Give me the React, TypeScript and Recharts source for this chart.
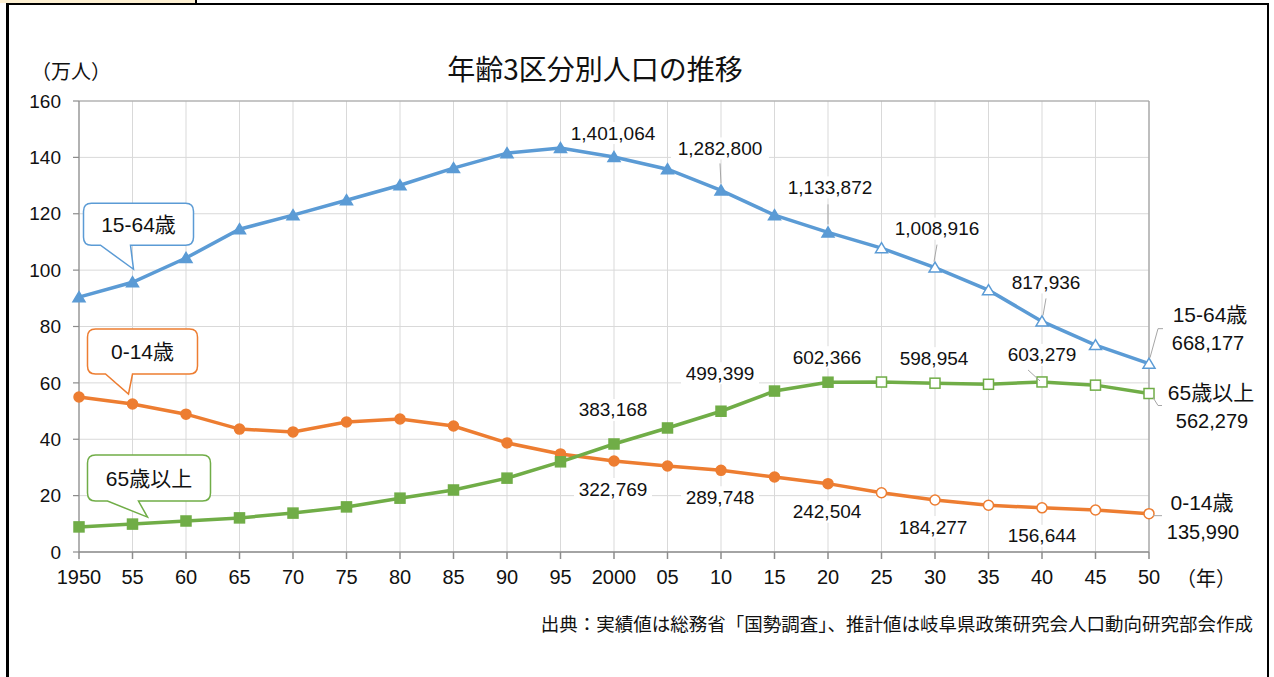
import React from 'react';
import { LineChart, Line, XAxis, YAxis, CartesianGrid, LabelList, ReferenceLine } from 'recharts';

// ---- data ----
const years = ['1950', '55', '60', '65', '70', '75', '80', '85', '90', '95', '2000', '05', '10', '15', '20', '25', '30', '35', '40', '45', '50'];
const workingAge = [90.4, 95.7, 104.3, 114.5, 119.5, 124.8, 130.1, 136.2, 141.5, 143.3, 140.1064, 135.8, 128.28, 119.5, 113.3872, 107.8, 100.8916, 92.9, 81.7936, 73.4, 66.8177];
const children = [55.0, 52.5, 48.9, 43.6, 42.6, 46.1, 47.2, 44.7, 38.7, 34.8, 32.2769, 30.5, 28.9748, 26.6, 24.2504, 21.0, 18.4277, 16.6, 15.6644, 14.9, 13.599];
const elderly = [8.9, 9.9, 11.0, 12.1, 13.8, 16.0, 19.1, 22.0, 26.2, 32.0, 38.3168, 44.0, 49.9399, 57.1, 60.2366, 60.3, 59.8954, 59.5, 60.3279, 59.2, 56.2279];

const workingAgeLabels = [null, null, null, null, null, null, null, null, null, null, '1,401,064', null, '1,282,800', null, '1,133,872', null, '1,008,916', null, '817,936', null, '668,177'];
const childrenLabels = [null, null, null, null, null, null, null, null, null, null, '322,769', null, '289,748', null, '242,504', null, '184,277', null, '156,644', null, '135,990'];
const elderlyLabels = [null, null, null, null, null, null, null, null, null, null, '383,168', null, '499,399', null, '602,366', null, '598,954', null, '603,279', null, '562,279'];

const seriesNames = { working: '15-64歳', children: '0-14歳', elderly: '65歳以上' };
const yTicks = [0, 20, 40, 60, 80, 100, 120, 140, 160];
const firstProjectedIndex = 15;

const data = years.map((year, i) => ({
  year,
  working: workingAge[i],
  children: children[i],
  elderly: elderly[i],
  workingLabel: workingAgeLabels[i],
  childrenLabel: childrenLabels[i],
  elderlyLabel: elderlyLabels[i],
}));

// ---- styles ----
const BLUE = '#5B9BD5';
const ORANGE = '#ED7D31';
const GREEN = '#70AD47';
const FONT = '"Liberation Sans", Arial, "Noto Sans CJK JP", sans-serif';
const JFONT = '"Noto Sans CJK JP", "Liberation Sans", sans-serif';

// label placements (offsets from point)
type Placement = { dx: number; dy: number; leader?: number[] };
const workingPlacement: Record<number, Placement> = {
  10: { dx: -1, dy: -24 },
  12: { dx: -1, dy: -42, leader: [-1, -27, 0, -7] },
  14: { dx: 2, dy: -45, leader: [0, -28, 0, -8] },
  16: { dx: 2, dy: -39, leader: [2, -23, -1, -6] },
  18: { dx: 4, dy: -39, leader: [4, -23, 1, -6] },
};
const childrenPlacement: Record<number, Placement> = {
  10: { dx: -1, dy: 28 },
  12: { dx: -1, dy: 27 },
  14: { dx: -1, dy: 28 },
  16: { dx: -2, dy: 27 },
  18: { dx: 0, dy: 28 },
};
const elderlyPlacement: Record<number, Placement> = {
  10: { dx: -1, dy: -34 },
  12: { dx: -1, dy: -38 },
  14: { dx: -1, dy: -25 },
  16: { dx: -1, dy: -25 },
  18: { dx: 0, dy: -27, leader: [-14, -12, -2, -1] },
};

type EndLabel = { nameDx: number; nameDy: number; valDx: number; valDy: number; leader: number[] };
const workingEnd: EndLabel = { nameDx: 61, nameDy: -49, valDx: 59, valDy: -21, leader: [1, -6, 9, -35, 14, -35] };
const elderlyEnd: EndLabel = { nameDx: 62, nameDy: -1, valDx: 63, valDy: 27, leader: [4, 4, 9, 12, 13, 12] };
const childrenEnd: EndLabel = { nameDx: 53, nameDy: -11, valDx: 54, valDy: 18, leader: [4, 2, 13, 2] };

type Bubble = { rect: number[]; tail: number[]; tip: number[] };
const workingBubble: Bubble = { rect: [-49, -79, 61, -37], tail: [-32, -2], tip: [1, -13] };
const childrenBubble: Bubble = { rect: [-45, -75, 65, -30], tail: [-27, 0], tip: [-4, -10] };
const elderlyBubble: Bubble = { rect: [-45, -69, 78, -23], tail: [-25, 6], tip: [15, -7] };

function bubblePath(cx: number, cy: number, b: Bubble) {
  const r = 8;
  const x1 = cx + b.rect[0], y1 = cy + b.rect[1], x2 = cx + b.rect[2], y2 = cy + b.rect[3];
  const tl = cx + b.tail[0], tr = cx + b.tail[1];
  const tx = cx + b.tip[0], ty = cy + b.tip[1];
  return `M${x1 + r},${y1} H${x2 - r} Q${x2},${y1} ${x2},${y1 + r} V${y2 - r} Q${x2},${y2} ${x2 - r},${y2} H${tr} L${tx},${ty} L${tl},${y2} H${x1 + r} Q${x1},${y2} ${x1},${y2 - r} V${y1 + r} Q${x1},${y1} ${x1 + r},${y1} Z`;
}

function getXY(props: any) {
  const x = props.x ?? props.viewBox?.x;
  const y = props.y ?? props.viewBox?.y;
  return { x, y };
}

function makeLabelContent(color: string, name: string, placement: Record<number, Placement>, bubble: Bubble, end: EndLabel) {
  return (props: any) => {
    const { x, y } = getXY(props);
    const index = props.index;
    if (x == null || y == null) return null;
    if (index === 1) {
      const cxT = x + (bubble.rect[0] + bubble.rect[2]) / 2;
      const cyT = y + (bubble.rect[1] + bubble.rect[3]) / 2;
      return (
        <g>
          <path d={bubblePath(x, y, bubble)} fill="#fff" stroke={color} strokeWidth={1.5} />
          <text x={cxT} y={cyT} textAnchor="middle" dominantBaseline="central" fontSize={21} fontFamily={FONT} fill="#111">{name}</text>
        </g>
      );
    }
    if (index === years.length - 1) {
      const l = end.leader;
      const pts = [];
      for (let i = 0; i < l.length; i += 2) pts.push(`${x + l[i]},${y + l[i + 1]}`);
      return (
        <g>
          <polyline points={pts.join(' ')} fill="none" stroke="#a6a6a6" strokeWidth={1} />
          <text x={x + end.nameDx} y={y + end.nameDy} textAnchor="middle" dominantBaseline="central" fontSize={21} fontFamily={FONT} fill="#111">{name}</text>
          <text x={x + end.valDx} y={y + end.valDy} textAnchor="middle" dominantBaseline="central" fontSize={20} fontFamily={FONT} fill="#111">{props.value}</text>
        </g>
      );
    }
    const p = placement[index];
    if (!p || props.value == null) return null;
    const text = String(props.value);
    const w = text.length * 10 + 8;
    const lx = x + p.dx, ly = y + p.dy;
    return (
      <g>
        {p.leader && (
          <line x1={x + p.leader[0]} y1={y + p.leader[1]} x2={x + p.leader[2]} y2={y + p.leader[3]} stroke="#a6a6a6" strokeWidth={1} />
        )}
        <rect x={lx - w / 2} y={ly - 11} width={w} height={22} fill="#fff" />
        <text x={lx} y={ly} textAnchor="middle" dominantBaseline="central" fontSize={19} fontFamily={FONT} fill="#111">{text}</text>
      </g>
    );
  };
}

function makeDot(color: string, shape: 'triangle' | 'circle' | 'square') {
  return (props: any) => {
    const { cx, cy, index } = props;
    if (cx == null || cy == null) return <g key={index} />;
    const hollow = index >= firstProjectedIndex;
    const fill = hollow ? '#fff' : color;
    if (shape === 'triangle') {
      const h = 5.5, w = 6;
      return <path key={index} d={`M${cx},${cy - h} L${cx + w},${cy + h - 1} L${cx - w},${cy + h - 1} Z`} fill={fill} stroke={color} strokeWidth={1.5} />;
    }
    if (shape === 'circle') {
      return <circle key={index} cx={cx} cy={cy} r={5} fill={fill} stroke={color} strokeWidth={1.5} />;
    }
    return <rect key={index} x={cx - 5} y={cy - 5} width={10} height={10} fill={fill} stroke={color} strokeWidth={1.5} />;
  };
}

export default function App() {
  return (
    <div style={{ position: 'absolute', left: 0, top: 0, width: 1274, height: 677, background: '#fff', overflow: 'hidden' }}>
      <LineChart width={1274} height={677} data={data} margin={{ top: 101, right: 125, bottom: 95, left: 19 }}>
        <CartesianGrid stroke="#d9d9d9" strokeWidth={1} vertical horizontal />
        <XAxis
          dataKey="year"
          interval={0}
          tickSize={7}
          tickMargin={11}
          height={30}
          stroke="#8c8c8c"
          strokeWidth={1.5}
          tick={{ fontSize: 20, fontFamily: FONT, fill: '#111' }}
        />
        <YAxis
          domain={[0, 160]}
          ticks={yTicks}
          width={60}
          tickSize={6}
          tickMargin={12}
          stroke="#8c8c8c"
          strokeWidth={1.2}
          tick={{ fontSize: 19, fontFamily: FONT, fill: '#111' }}
        />
        <ReferenceLine y={160} stroke="#a0a0a0" strokeWidth={1} />
        <ReferenceLine x="50" stroke="#a0a0a0" strokeWidth={1.2} />
        <Line dataKey="working" stroke={BLUE} strokeWidth={3.5} isAnimationActive={false} dot={makeDot(BLUE, 'triangle')} activeDot={false}>
          <LabelList dataKey="workingLabel" content={makeLabelContent(BLUE, seriesNames.working, workingPlacement, workingBubble, workingEnd)} />
        </Line>
        <Line dataKey="children" stroke={ORANGE} strokeWidth={3.5} isAnimationActive={false} dot={makeDot(ORANGE, 'circle')} activeDot={false}>
          <LabelList dataKey="childrenLabel" content={makeLabelContent(ORANGE, seriesNames.children, childrenPlacement, childrenBubble, childrenEnd)} />
        </Line>
        <Line dataKey="elderly" stroke={GREEN} strokeWidth={3.5} isAnimationActive={false} dot={makeDot(GREEN, 'square')} activeDot={false}>
          <LabelList dataKey="elderlyLabel" content={makeLabelContent(GREEN, seriesNames.elderly, elderlyPlacement, elderlyBubble, elderlyEnd)} />
        </Line>
      </LineChart>
      <svg width={1274} height={677} style={{ position: 'absolute', left: 0, top: 0, pointerEvents: 'none' }}>
        <rect x={0} y={0} width={195} height={3} fill="#fdf0d2" />
        <line x1={196} y1={0} x2={196} y2={4} stroke="#000" strokeWidth={2} />
        <line x1={7} y1={4} x2={1268} y2={4} stroke="#000" strokeWidth={2} />
        <line x1={7.5} y1={3} x2={7.5} y2={677} stroke="#000" strokeWidth={3} />
        <line x1={1268} y1={3} x2={1268} y2={677} stroke="#000" strokeWidth={2} />
        <text x={595} y={68} textAnchor="middle" dominantBaseline="central" fontSize={28} fontFamily={JFONT} fill="#111">年齢3区分別人口の推移</text>
        <text x={31} y={70} dominantBaseline="central" fontSize={20} fontFamily={JFONT} fill="#111">（万人）</text>
        <text x={1176} y={577} dominantBaseline="central" fontSize={20} fontFamily={JFONT} fill="#111">（年）</text>
        <text x={1253} y={623} textAnchor="end" dominantBaseline="central" fontSize={18.5} fontFamily={JFONT} fill="#111">出典：実績値は総務省「国勢調査」、推計値は岐阜県政策研究会人口動向研究部会作成</text>
      </svg>
    </div>
  );
}
